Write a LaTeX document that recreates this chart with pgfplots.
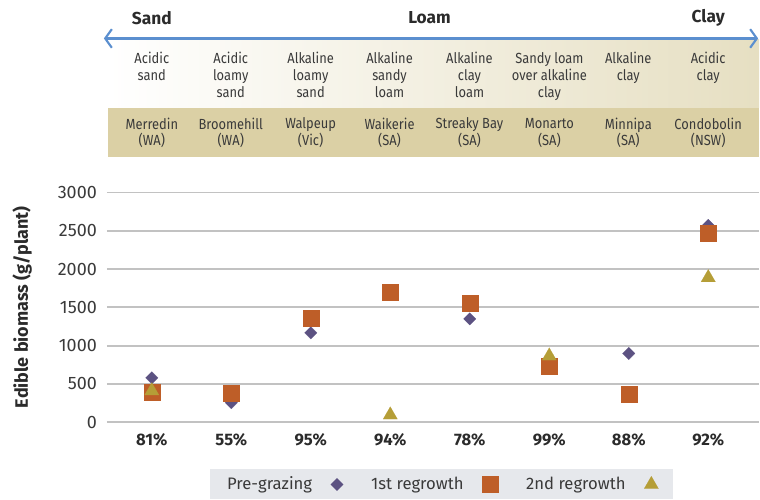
\documentclass[border=0pt]{standalone}
\usepackage{fontspec}
\setmainfont{Fira Sans}
\newfontfamily\condfont{Fira Sans}[FakeStretch=0.88]
\usepackage{pgfplots}
\pgfplotsset{compat=1.18}
\usetikzlibrary{arrows.meta}
\definecolor{cDiam}{HTML}{5C5282}
\definecolor{cSq}{HTML}{BE5E28}
\definecolor{cTri}{HTML}{B59E37}
\definecolor{bandA}{HTML}{E6DFC2}
\definecolor{bandB}{HTML}{DBD0A5}
\definecolor{arrowBlue}{HTML}{5B8FCF}
\definecolor{legBg}{HTML}{E6E8EC}
\definecolor{gridC}{HTML}{C2C2C2}
\definecolor{inkD}{HTML}{2B2B2B}
\definecolor{inkT}{HTML}{3A3A3A}

\begin{document}
\begin{tikzpicture}
% header drawn in pixel units (origin top left, 1px = 0.75pt)
\begin{scope}[x=0.75pt,y=-0.75pt]
  \useasboundingbox (0,0) rectangle (760,500);
  \shade[left color=white, right color=bandA] (108,40) rectangle (760,108);
  \fill[bandB] (108,108) rectangle (760,157);
  \draw[arrowBlue, line width=1.6pt,
        {Straight Barb[length=5pt,width=14pt]}-{Straight Barb[length=5pt,width=14pt]}]
        (104,38.5) -- (759,38.5);
  \foreach \x/\t in {152/Sand, 430/Loam, 709/Clay}
    \node[font=\fontsize{13}{15}\selectfont\bfseries, text=inkD] at (\x,18) {\t};
  \foreach \x/\t in {152/{Acidic\\sand}, 231/{Acidic\\loamy\\sand},
      311/{Alkaline\\loamy\\sand}, 390/{Alkaline\\sandy\\loam},
      470/{Alkaline\\clay\\loam}, 550/{Sandy loam\\over alkaline\\clay},
      629/{Alkaline\\clay}, 709/{Acidic\\clay}}
    \node[anchor=north, inner sep=0pt, align=center, text=inkT,
          font=\condfont\fontsize{11}{12.75}\selectfont] at (\x,52) {\t};
  \foreach \x/\t in {152/{Merredin\\(WA)}, 231/{Broomehill\\(WA)},
      311/{Walpeup\\(Vic)}, 390/{Waikerie\\(SA)},
      470/{Streaky Bay\\(SA)}, 550/{Monarto\\(SA)},
      629/{Minnipa\\(SA)}, 709/{Condobolin\\(NSW)}}
    \node[inner sep=0pt, align=center, text=inkT,
          font=\condfont\fontsize{11}{12.75}\selectfont] at (\x,133) {\t};
  \fill[legBg] (210,470) rectangle (674,500);
\end{scope}

\begin{axis}[
    at={(80.25pt,-317.03pt)}, anchor=south west,
    scale only axis, width=489.75pt, height=172.5pt,
    xmin=-0.565, xmax=7.64, ymin=0, ymax=3000,
    clip=false,
    axis line style={draw=none},
    major tick length=0pt,
    ymajorgrids, grid style={gridC, line width=1.3pt},
    xtick={0,...,7},
    xticklabels={81\%,55\%,95\%,94\%,78\%,99\%,88\%,92\%},
    ytick={0,500,...,3000},
    xticklabel style={font=\fontsize{12.5}{14}\selectfont\bfseries, text=inkD, yshift=-5pt},
    yticklabel style={font=\fontsize{13.5}{15}\selectfont, text=inkT, xshift=-4pt},
    /pgf/number format/assume math mode=true,
    /pgf/number format/set thousands separator={},
    ylabel={Edible biomass (g/plant)},
    every axis y label/.style={at={(axis description cs:-0.130,0.5)}, rotate=90,
      anchor=center, font=\fontsize{13.5}{15}\selectfont\bfseries, text=inkD},
    legend columns=3,
    legend plot pos=right,
    legend style={at={(axis description cs:0.513,-0.271)}, anchor=center,
      draw=none, fill=none, font=\fontsize{12.5}{14}\selectfont, text=inkT,
      /tikz/every odd column/.append style={column sep=12pt},
      /tikz/every even column/.append style={column sep=19pt}},
  ]
  \addplot[only marks, mark=square*, mark size=3.3pt,
    mark options={rotate=45, fill=cDiam, draw=cDiam, line width=0.1pt}]
    coordinates {(0,580) (1,255) (2,1168) (3,1720) (4,1350) (5,700) (6,898) (7,2570)};
  \addlegendentry{Pre-grazing}
  \addplot[only marks, mark=square*, mark size=6pt,
    mark options={fill=cSq, draw=cSq, line width=0.1pt}]
    coordinates {(0,390) (1,385) (2,1355) (3,1694) (4,1550) (5,737) (6,363) (7,2476)};
  \addlegendentry{1st regrowth}
  \addplot[only marks, mark=triangle*, mark size=6.2pt,
    mark options={fill=cTri, draw=cTri, line width=0.1pt}]
    coordinates {(0,410) (3,95) (5,865) (7,1888)};
  \addlegendentry{2nd regrowth}
\end{axis}
\end{tikzpicture}
\end{document}
